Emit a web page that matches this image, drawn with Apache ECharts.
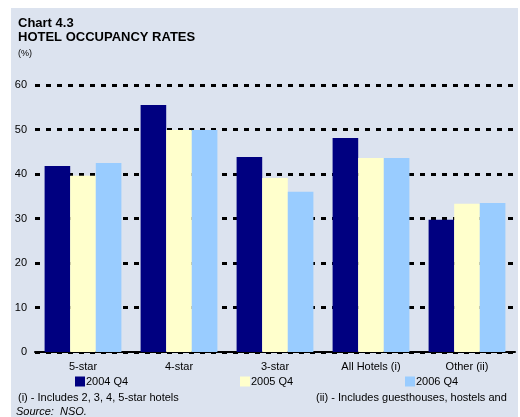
<!DOCTYPE html>
<html>
<head>
<meta charset="utf-8">
<script src="https://cdn.jsdelivr.net/npm/echarts@6/dist/echarts.min.js"></script>
<style>
  html, body { margin: 0; padding: 0; background: #fff; }
  #chart { width: 520px; height: 417px; }
</style>
</head>
<body>
<div id="chart"></div>
<script>
var categories = ['5-star', '4-star', '3-star', 'All Hotels (i)', 'Other (ii)'];
var q4_2004 = [41.8, 55.5, 43.8, 48.1, 29.7];
var q4_2005 = [39.6, 49.9, 39.1, 43.6, 33.3];
var q4_2006 = [42.5, 49.9, 36.0, 43.6, 33.5];
var yTicks = [0, 10, 20, 30, 40, 50, 60];

var font = 'Liberation Sans, Arial, sans-serif';
var chart = echarts.init(document.getElementById('chart'));

function legendAt(name, left) {
  return {
    data: [name],
    left: left,
    top: 376,
    itemWidth: 10,
    itemHeight: 10,
    itemGap: 0,
    icon: 'rect',
    padding: 0,
    textStyle: { fontFamily: font, fontSize: 11, color: '#000', padding: [0, 0, 0, -4] }
  };
}

var option = {
  animation: false,
  graphic: [
    { type: 'rect', z: -10, shape: { x: 11, y: 8, width: 507, height: 409 }, style: { fill: '#dce3ef' } },
    { type: 'text', left: 18, top: 17, style: { text: 'Chart 4.3', font: 'bold 13px ' + font, fill: '#000' } },
    { type: 'text', left: 18, top: 31, style: { text: 'HOTEL OCCUPANCY RATES', font: 'bold 13px ' + font, fill: '#000' } },
    { type: 'text', left: 18, top: 49, style: { text: '(%)', font: '9px ' + font, fill: '#000' } },
    { type: 'text', left: 18, top: 392, style: { text: '(i) - Includes 2, 3, 4, 5-star hotels', font: '11px ' + font, fill: '#000' } },
    { type: 'text', left: 316, top: 392, style: { text: '(ii) - Includes guesthouses, hostels and', font: '11px ' + font, fill: '#000' } },
    { type: 'text', left: 16, top: 406, style: { text: 'Source:  NSO.', font: 'italic 11px ' + font, fill: '#000' } }
  ],
  legend: [
    legendAt('2004 Q4', 75),
    legendAt('2005 Q4', 240),
    legendAt('2006 Q4', 405)
  ],
  grid: { left: 35, right: 5, top: 85, bottom: 65 },
  xAxis: {
    type: 'category',
    data: categories,
    axisTick: { show: false },
    axisLine: { lineStyle: { color: '#000', width: 2 } },
    axisLabel: { fontFamily: font, fontSize: 11, color: '#000', margin: 9 }
  },
  yAxis: {
    type: 'value',
    min: yTicks[0],
    max: yTicks[yTicks.length - 1],
    interval: 10,
    axisLine: { show: false },
    axisTick: { show: false },
    axisLabel: { fontFamily: font, fontSize: 11, color: '#000', margin: 8 },
    splitLine: { lineStyle: { color: '#000', width: 3, type: [5, 6] } }
  },
  series: [
    { name: '2004 Q4', type: 'bar', data: q4_2004, itemStyle: { color: '#000080' }, barGap: '0%', barCategoryGap: '20%' },
    { name: '2005 Q4', type: 'bar', data: q4_2005, itemStyle: { color: '#ffffcc' } },
    { name: '2006 Q4', type: 'bar', data: q4_2006, itemStyle: { color: '#99ccff' } }
  ]
};
chart.setOption(option);
</script>
</body>
</html>
